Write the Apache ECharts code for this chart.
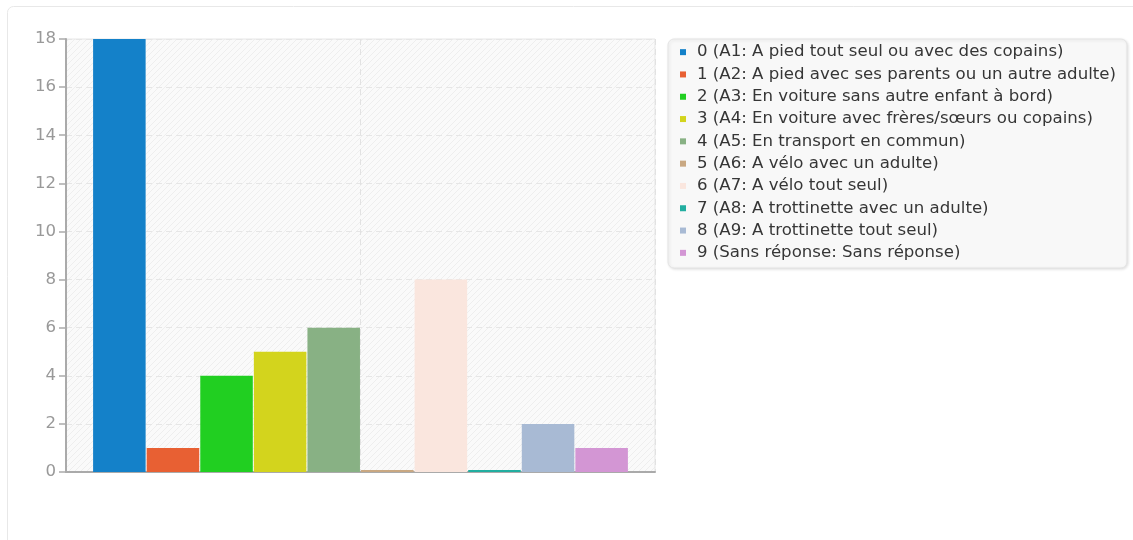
<!DOCTYPE html>
<html>
<head>
<meta charset="utf-8">
<script src="https://cdn.jsdelivr.net/npm/echarts@6/dist/echarts.min.js"></script>
<style>
html,body{margin:0;padding:0;background:#fff;}
#chart{width:1133px;height:540px;}
</style>
</head>
<body>
<div id="chart"></div>
<script>
var seriesNames = [
  '0 (A1: A pied tout seul ou avec des copains)',
  '1 (A2: A pied avec ses parents ou un autre adulte)',
  '2 (A3: En voiture sans autre enfant à bord)',
  '3 (A4: En voiture avec frères/sœurs ou copains)',
  '4 (A5: En transport en commun)',
  '5 (A6: A vélo avec un adulte)',
  '6 (A7: A vélo tout seul)',
  '7 (A8: A trottinette avec un adulte)',
  '8 (A9: A trottinette tout seul)',
  '9 (Sans réponse: Sans réponse)'
];
var seriesValues = [18, 1, 4, 5, 6, 0, 8, 0, 2, 1];
var seriesColors = ['#1481c9', '#e86033', '#21cf21', '#d3d41d', '#88b184', '#c9a882', '#fae6de', '#22aea0', '#a8bad4', '#d396d4'];
var yTicks = [0, 2, 4, 6, 8, 10, 12, 14, 16, 18];

var pc = document.createElement('canvas');
pc.width = 6; pc.height = 6;
var g = pc.getContext('2d');
g.fillStyle = '#fafafa';
g.fillRect(0, 0, 6, 6);
g.strokeStyle = '#eeeeee';
g.lineWidth = 1;
g.beginPath();
g.moveTo(-1, 7); g.lineTo(7, -1);
g.moveTo(-7, 7); g.lineTo(1, -1);
g.moveTo(5, 7); g.lineTo(13, -1);
g.stroke();

var FS = 16.6;
var chart = echarts.init(document.getElementById('chart'), null, {renderer: 'canvas'});
var series = seriesNames.map(function (n, i) {
  return {
    name: n,
    type: 'bar',
    data: [seriesValues[i]],
    barGap: '2%',
    barCategoryGap: '9.2%',
    barMinHeight: 2,
    itemStyle: {color: seriesColors[i]},
    emphasis: {disabled: true}
  };
});
chart.setOption({
  animation: false,
  textStyle: {fontFamily: 'DejaVu Sans'},
  graphic: [{
    type: 'rect', z: -10,
    shape: {x: 7.5, y: 6.5, width: 1160, height: 600, r: 6},
    style: {fill: 'none', stroke: '#e8e8e8', lineWidth: 1}
  }],
  grid: {
    left: 66, top: 39, width: 589, height: 433,
    show: true,
    backgroundColor: {image: pc, repeat: 'repeat'},
    borderColor: '#e6e6e6', borderWidth: 1
  },
  legend: {
    orient: 'vertical',
    left: 668, top: 39,
    padding: [2, 11, 4, 12],
    backgroundColor: '#f8f8f8',
    borderColor: '#e4e4e4', borderWidth: 1, borderRadius: 6,
    shadowColor: 'rgba(0,0,0,0.12)', shadowBlur: 3, shadowOffsetX: 1, shadowOffsetY: 1,
    icon: 'rect', itemWidth: 6, itemHeight: 6, itemGap: 0,
    selectedMode: false,
    textStyle: {fontSize: FS, color: '#363636', fontFamily: 'DejaVu Sans', lineHeight: 22.3, padding: [0, 0, 0, 6]},
    data: seriesNames
  },
  xAxis: [{
    type: 'category', data: [''],
    axisLine: {show: true, lineStyle: {color: '#aaa', width: 2}},
    axisTick: {show: false}, axisLabel: {show: false}, splitLine: {show: false}
  }, {
    type: 'value', min: 0, max: 2, interval: 1, position: 'top',
    axisLine: {show: false}, axisTick: {show: false}, axisLabel: {show: false},
    splitLine: {show: true, lineStyle: {color: '#e2e2e2', type: [6, 4]}}
  }],
  yAxis: {
    type: 'value', min: yTicks[0], max: yTicks[yTicks.length - 1], interval: 2,
    axisLine: {show: true, lineStyle: {color: '#aaa', width: 2}},
    axisTick: {show: true, length: 7, lineStyle: {color: '#aaa', width: 1.5}},
    axisLabel: {color: '#999', fontSize: FS, margin: 10, fontFamily: 'DejaVu Sans'},
    splitLine: {show: true, lineStyle: {color: '#e6e6e6', type: [6, 4]}}
  },
  series: series
});
</script>
</body>
</html>
